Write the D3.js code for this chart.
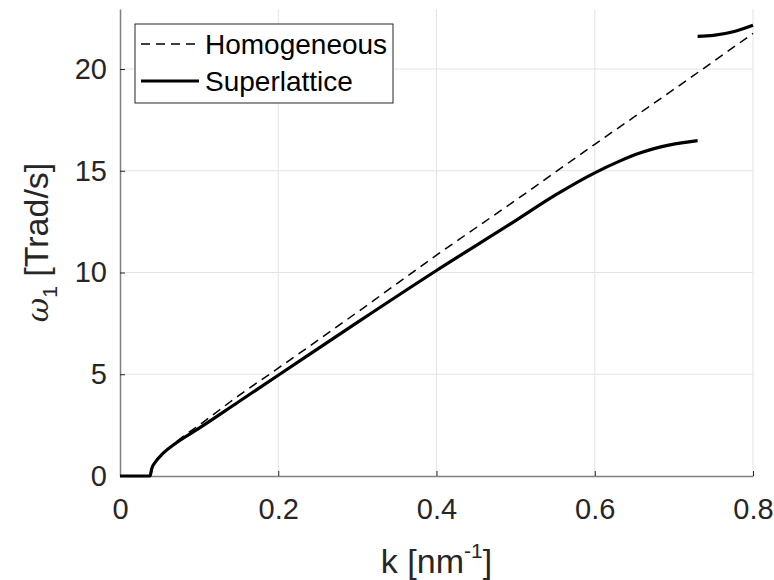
<!DOCTYPE html>
<html>
<head>
<meta charset="utf-8">
<style>
* { margin: 0; padding: 0; }
html, body { width: 774px; height: 580px; background: #fff; }
svg { display: block; font-family: "Liberation Sans", Arial, sans-serif; }
</style>
</head>
<body>
<script src="https://cdn.jsdelivr.net/npm/d3@7"></script>
<script>
// values: [k in nm^-1, omega in Trad/s]
var homogeneous = [
  [0, 0], [0.038, 0], [0.042, 0.5], [0.05, 0.95], [0.06, 1.3], [0.08, 1.95],
  [0.1, 2.5], [0.15, 3.95], [0.2, 5.3], [0.3, 8.05], [0.4, 10.85],
  [0.5, 13.55], [0.6, 16.3], [0.7, 19.0], [0.8, 21.75]
];
var lowerBranch = [
  [0, 0], [0.038, 0], [0.04, 0.35], [0.045, 0.7], [0.054, 1.1], [0.07, 1.6],
  [0.1, 2.35], [0.15, 3.65], [0.2, 4.95], [0.3, 7.55], [0.4, 10.1],
  [0.5, 12.55], [0.55, 13.8], [0.6, 14.9], [0.63, 15.45], [0.657, 15.87],
  [0.695, 16.27], [0.73, 16.48]
];
var upperBranch = [
  [0.73, 21.6], [0.75, 21.65], [0.775, 21.83], [0.8, 22.15]
];
var xTicks = [0, 0.2, 0.4, 0.6, 0.8];
var yTicks = [0, 5, 10, 15, 20];
var legendNames = ["Homogeneous", "Superlattice"];

var width = 774, height = 580;
var margin = { top: 9, right: 21, bottom: 104, left: 120 };

var svg = d3.select("body").append("svg")
  .attr("width", width)
  .attr("height", height);

var x = d3.scaleLinear()
  .domain([0, 0.8])
  .range([margin.left, width - margin.right]);

var y = d3.scaleLinear()
  .domain([0, 22.95])
  .range([height - margin.bottom, margin.top]);

// grid
svg.append("g")
  .attr("stroke", "#e3e3e3")
  .attr("stroke-width", 1)
  .selectAll("line")
  .data(xTicks.slice(1))
  .join("line")
  .attr("x1", d => x(d)).attr("x2", d => x(d))
  .attr("y1", y(0)).attr("y2", margin.top);

svg.append("g")
  .attr("stroke", "#e3e3e3")
  .attr("stroke-width", 1)
  .selectAll("line")
  .data(yTicks.slice(1))
  .join("line")
  .attr("x1", x(0)).attr("x2", width - margin.right)
  .attr("y1", d => y(d)).attr("y2", d => y(d));

// axes
var xAxis = svg.append("g")
  .attr("transform", `translate(0,${y(0)})`)
  .call(d3.axisBottom(x).tickValues(xTicks).tickSize(-5).tickPadding(22)
    .tickFormat(d => d === 0 ? "0" : d3.format(".1f")(d)).tickSizeOuter(0));

var yAxis = svg.append("g")
  .attr("transform", `translate(${x(0)},0)`)
  .call(d3.axisLeft(y).tickValues(yTicks).tickSize(-5).tickPadding(13).tickSizeOuter(0));

[xAxis, yAxis].forEach(function (a) {
  a.select(".domain").attr("stroke", "#808080").attr("stroke-width", 1.5);
  a.selectAll(".tick line").attr("stroke", "#262626");
  a.selectAll(".tick text")
    .attr("fill", "#262626")
    .attr("font-size", 29)
    .attr("font-family", "Liberation Sans, Arial, sans-serif");
});

// lines
var line = d3.line()
  .x(d => x(d[0]))
  .y(d => y(d[1]))
  .curve(d3.curveMonotoneX);

svg.append("path")
  .datum(homogeneous)
  .attr("fill", "none")
  .attr("stroke", "#000")
  .attr("stroke-width", 1.5)
  .attr("stroke-dasharray", "9,6")
  .attr("d", line);

[lowerBranch, upperBranch].forEach(function (b) {
  svg.append("path")
    .datum(b)
    .attr("fill", "none")
    .attr("stroke", "#000")
    .attr("stroke-width", 3.2)
    .attr("d", line);
});

// axis labels
svg.append("text")
  .attr("x", (x(0) + x(0.8)) / 2)
  .attr("y", 573)
  .attr("text-anchor", "middle")
  .attr("fill", "#262626")
  .attr("font-size", 34)
  .call(t => {
    t.append("tspan").text("k [nm");
    t.append("tspan").attr("font-size", 21).attr("dy", -15).text("-1");
    t.append("tspan").attr("dy", 15).text("]");
  });

svg.append("text")
  .attr("transform", `translate(48,${(y(0) + margin.top) / 2}) rotate(-90)`)
  .attr("text-anchor", "middle")
  .attr("fill", "#262626")
  .attr("font-size", 34)
  .call(t => {
    t.append("tspan").attr("font-style", "italic").attr("font-family", "DejaVu Serif, serif").attr("font-size", 30).text("ω");
    t.append("tspan").attr("font-size", 21).attr("dy", 9).text("1");
    t.append("tspan").attr("dy", -9).text(" [Trad/s]");
  });

// legend
var lg = svg.append("g").attr("transform", "translate(135,24)");
lg.append("rect")
  .attr("width", 258).attr("height", 79)
  .attr("fill", "#fff").attr("stroke", "#262626").attr("stroke-width", 1);

legendNames.forEach(function (name, i) {
  var cy = 20 + i * 37;
  lg.append("line")
    .attr("x1", 6).attr("x2", 64)
    .attr("y1", cy).attr("y2", cy)
    .attr("stroke", "#000")
    .attr("stroke-width", i === 0 ? 1.5 : 3.2)
    .attr("stroke-dasharray", i === 0 ? "9,6" : null);
  lg.append("text")
    .attr("x", 70).attr("y", cy + 10)
    .attr("fill", "#000")
    .attr("font-size", 28)
    .text(name);
});
</script>
</body>
</html>
